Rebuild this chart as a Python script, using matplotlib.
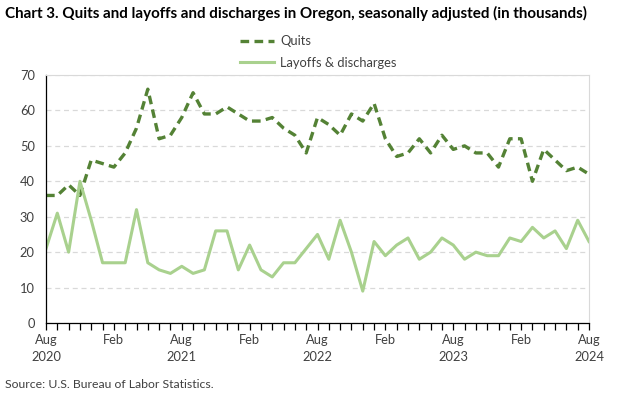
import matplotlib.pyplot as plt
import numpy as np

plt.rcParams['font.family'] = ['Lato', 'DejaVu Sans']

# monthly, Aug 2020 .. Aug 2024
months = np.arange(49)
quits = [36, 36, 39, 36, 46, 45, 44, 48, 55, 66, 52, 53, 58, 65, 59, 59,
         61, 59, 57, 57, 58, 55, 53, 48, 58, 56, 53, 59, 57, 62, 52, 47,
         48, 52, 48, 53, 49, 50, 48, 48, 44, 52, 52, 40, 49, 46, 43, 44, 42]
layoffs = [21, 31, 20, 40, 29, 17, 17, 17, 32, 17, 15, 14, 16, 14, 15, 26,
           26, 15, 22, 15, 13, 17, 17, 21, 25, 18, 29, 20, 9, 23, 19, 22,
           24, 18, 20, 24, 22, 18, 20, 19, 19, 24, 23, 27, 24, 26, 21, 29, 23]
tick_labels = ['Aug\n2020', 'Feb', 'Aug\n2021', 'Feb', 'Aug\n2022', 'Feb',
               'Aug\n2023', 'Feb', 'Aug\n2024']

fig = plt.figure(figsize=(6.24, 3.94), dpi=100)
ax = fig.add_axes([46/624, 1-323/394, (589-46)/624, (323-75)/394])

ax.plot(months, quits, color='#548235', lw=2.4, dashes=(2.6, 1.6), label='Quits')
ax.plot(months, layoffs, color='#A9D18E', lw=2.2, label='Layoffs & discharges')

ax.set_xlim(0, 48)
ax.set_ylim(0, 70)
ax.set_yticks(range(0, 71, 10))
ax.yaxis.grid(True, color='#d9d9d9', ls=(0, (4, 3)), lw=0.9)
ax.set_axisbelow(True)
ax.tick_params(axis='y', length=0, labelsize=9.3, colors='#404040', pad=8)

ax.set_xticks(months[::6])
ax.set_xticklabels(tick_labels, linespacing=1.5)
ax.set_xticks(months, minor=True)
ax.tick_params(axis='x', which='both', direction='out', length=5, width=0.9,
               labelsize=9.3, labelcolor='#404040', pad=3)

for s in ['top', 'right']:
    ax.spines[s].set_color('#d9d9d9')
for s in ['left', 'bottom']:
    ax.spines[s].set_color('black')
    ax.spines[s].set_linewidth(0.9)

fig.text(0.008, 0.965, 'Chart 3. Quits and layoffs and discharges in Oregon, seasonally adjusted (in thousands)',
         fontsize=10.9, fontweight='bold', va='center', ha='left', color='black')
fig.legend(loc='center', bbox_to_anchor=(0.51, 0.868), ncol=1, frameon=False,
           fontsize=9.3, handlelength=2.6, handletextpad=0.5, labelspacing=0.75,
           labelcolor='#404040')
fig.text(0.008, 0.025, 'Source: U.S. Bureau of Labor Statistics.', fontsize=8.8,
         color='#404040', va='center', ha='left')

fig.savefig('out.png', dpi=100)
